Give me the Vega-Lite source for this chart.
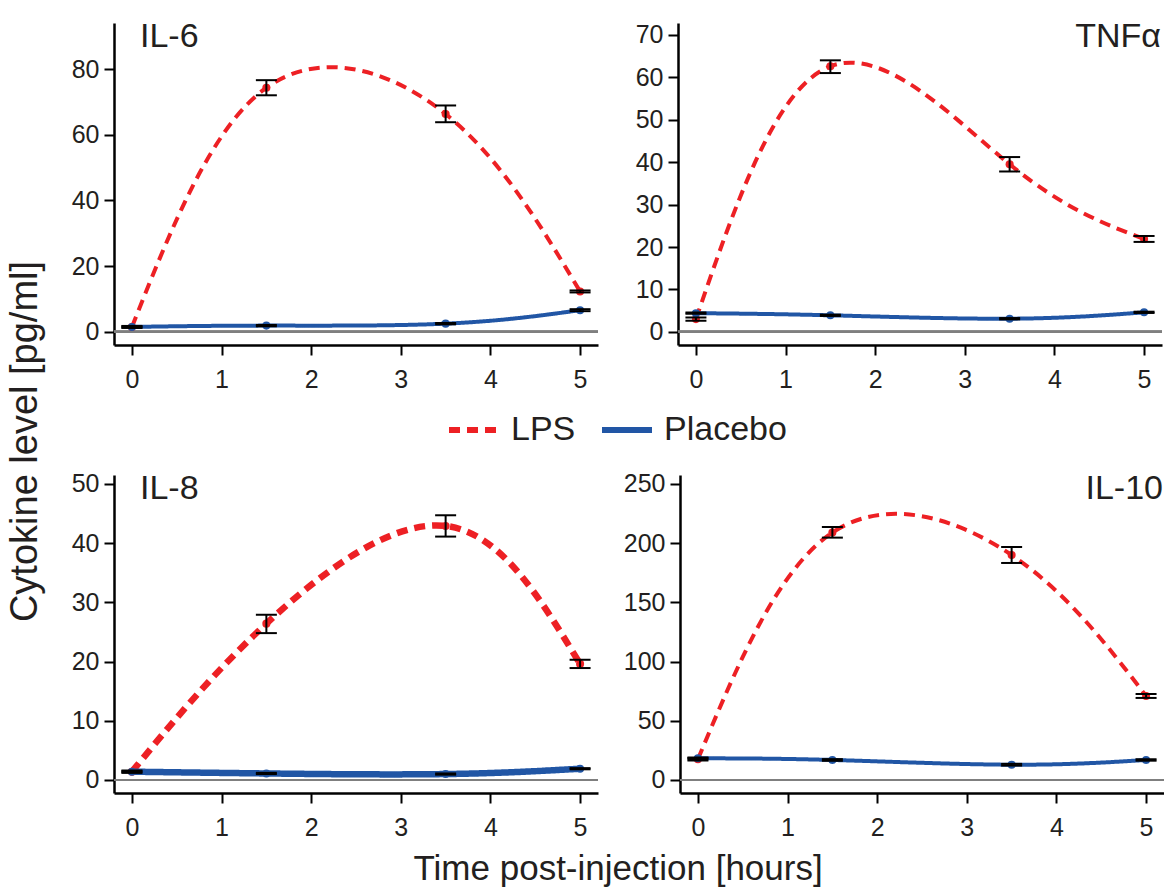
{
  "$schema": "https://vega.github.io/schema/vega-lite/v6.json",
  "background": "white",
  "padding": {"left": 7, "top": 20, "right": 2, "bottom": 5},
  "config": {
    "font": "Liberation Sans",
    "view": {"stroke": null},
    "axis": {"grid": false, "domainColor": "#000000", "domainWidth": 2.5, "tickColor": "#000000", "tickWidth": 2, "tickSize": 10, "labelFontSize": 25, "labelColor": "#231f20", "labelFont": "Liberation Sans", "labelPadding": 5, "title": null},
    "axisX": {"labelPadding": 12, "format": "d"},
    "title": {"font": "Liberation Sans", "color": "#231f20", "fontWeight": "normal"},
    "text": {"font": "Liberation Sans", "color": "#231f20", "fontSize": 34, "fontWeight": "normal"}
  },
  "title": {"text": "Cytokine level [pg/ml]", "orient": "left", "anchor": "middle", "fontSize": 38, "offset": 26, "dx": 12},
  "resolve": {"scale": {"color": "shared", "strokeDash": "shared", "fill": "shared"}},
  "datasets": {
    "d": [
      {"cytokine": "IL-6", "group": "LPS", "time": 0, "value": 1.5, "lo": 1.2, "hi": 1.8},
      {"cytokine": "IL-6", "group": "LPS", "time": 1.5, "value": 74.3, "lo": 72.0, "hi": 76.6},
      {"cytokine": "IL-6", "group": "LPS", "time": 3.5, "value": 66.3, "lo": 63.8, "hi": 68.9},
      {"cytokine": "IL-6", "group": "LPS", "time": 5, "value": 12.3, "lo": 12.0, "hi": 12.6},
      {"cytokine": "IL-6", "group": "Placebo", "time": 0, "value": 1.5, "lo": 1.3, "hi": 1.7},
      {"cytokine": "IL-6", "group": "Placebo", "time": 1.5, "value": 1.9, "lo": 1.7, "hi": 2.1},
      {"cytokine": "IL-6", "group": "Placebo", "time": 3.5, "value": 2.5, "lo": 2.3, "hi": 2.7},
      {"cytokine": "IL-6", "group": "Placebo", "time": 5, "value": 6.6, "lo": 6.3, "hi": 6.9},
      {"cytokine": "TNFα", "group": "LPS", "time": 0, "value": 3.0, "lo": 2.6, "hi": 3.4},
      {"cytokine": "TNFα", "group": "LPS", "time": 1.5, "value": 62.6, "lo": 61.0, "hi": 64.0},
      {"cytokine": "TNFα", "group": "LPS", "time": 3.5, "value": 39.5, "lo": 37.8, "hi": 41.2},
      {"cytokine": "TNFα", "group": "LPS", "time": 5, "value": 21.9, "lo": 21.2, "hi": 22.6},
      {"cytokine": "TNFα", "group": "Placebo", "time": 0, "value": 4.4, "lo": 4.25, "hi": 4.55},
      {"cytokine": "TNFα", "group": "Placebo", "time": 1.5, "value": 3.9, "lo": 3.75, "hi": 4.05},
      {"cytokine": "TNFα", "group": "Placebo", "time": 3.5, "value": 3.1, "lo": 2.95, "hi": 3.25},
      {"cytokine": "TNFα", "group": "Placebo", "time": 5, "value": 4.6, "lo": 4.45, "hi": 4.75},
      {"cytokine": "IL-8", "group": "LPS", "time": 0, "value": 1.4, "lo": 1.2, "hi": 1.6},
      {"cytokine": "IL-8", "group": "LPS", "time": 1.5, "value": 26.4, "lo": 24.8, "hi": 27.9},
      {"cytokine": "IL-8", "group": "LPS", "time": 3.5, "value": 42.9, "lo": 41.1, "hi": 44.7},
      {"cytokine": "IL-8", "group": "LPS", "time": 5, "value": 19.6, "lo": 18.9, "hi": 20.3},
      {"cytokine": "IL-8", "group": "Placebo", "time": 0, "value": 1.4, "lo": 1.3, "hi": 1.5},
      {"cytokine": "IL-8", "group": "Placebo", "time": 1.5, "value": 1.1, "lo": 1.0, "hi": 1.2},
      {"cytokine": "IL-8", "group": "Placebo", "time": 3.5, "value": 1.0, "lo": 0.9, "hi": 1.1},
      {"cytokine": "IL-8", "group": "Placebo", "time": 5, "value": 1.9, "lo": 1.8, "hi": 2.0},
      {"cytokine": "IL-10", "group": "LPS", "time": 0, "value": 17.5, "lo": 16.5, "hi": 18.5},
      {"cytokine": "IL-10", "group": "LPS", "time": 1.5, "value": 209, "lo": 204.7, "hi": 213.7},
      {"cytokine": "IL-10", "group": "LPS", "time": 3.5, "value": 190, "lo": 183.3, "hi": 196.8},
      {"cytokine": "IL-10", "group": "LPS", "time": 5, "value": 71, "lo": 69.3, "hi": 72.6},
      {"cytokine": "IL-10", "group": "Placebo", "time": 0, "value": 18.3, "lo": 17.6, "hi": 19.0},
      {"cytokine": "IL-10", "group": "Placebo", "time": 1.5, "value": 16.9, "lo": 16.2, "hi": 17.6},
      {"cytokine": "IL-10", "group": "Placebo", "time": 3.5, "value": 12.9, "lo": 12.2, "hi": 13.6},
      {"cytokine": "IL-10", "group": "Placebo", "time": 5, "value": 16.9, "lo": 16.3, "hi": 17.5}
    ]
  },
  "spacing": 79,
  "vconcat": [
    {
      "spacing": 36,
      "hconcat": [
        {
          "width": 484, "height": 322,
          "data": {"name": "d"},
          "transform": [{"filter": "datum.cytokine === 'IL-6'"}],
          "layer": [
            {"mark": {"type": "rule", "color": "#7f7f7f", "strokeWidth": 2}, "encoding": {"y": {"datum": 0, "type": "quantitative"}}},
            {"mark": {"type": "line", "interpolate": "natural", "strokeWidth": 4},
             "encoding": {
               "x": {"field": "time", "type": "quantitative", "scale": {"domain": [-0.2, 5.2], "nice": false, "zero": false}, "axis": {"values": [0, 1, 2, 3, 4, 5]}, "title": null},
               "y": {"field": "value", "type": "quantitative", "scale": {"domain": [-4, 94], "nice": false, "zero": false}, "axis": {"values": [0, 20, 40, 60, 80]}, "title": null},
               "color": {"field": "group", "type": "nominal", "scale": {"domain": ["LPS", "Placebo"], "range": ["#ed2024", "#2156a5"]}, "legend": {"orient": "none", "legendX": 332, "legendY": 379, "direction": "horizontal", "title": null, "symbolType": "stroke", "symbolStrokeWidth": 6, "symbolSize": 2500, "labelFontSize": 34, "labelFont": "Liberation Sans", "labelColor": "#231f20", "labelOffset": 9, "columnPadding": 14}},
               "strokeDash": {"field": "group", "type": "nominal", "scale": {"domain": ["LPS", "Placebo"], "range": [[11, 7], [1, 0]]}, "legend": {"orient": "none", "legendX": 332, "legendY": 379, "direction": "horizontal", "title": null, "symbolType": "stroke", "symbolStrokeWidth": 6, "symbolSize": 2500, "labelFontSize": 34, "labelFont": "Liberation Sans", "labelColor": "#231f20", "labelOffset": 9, "columnPadding": 14}}
             }},
            {"mark": {"type": "point", "filled": true, "size": 65, "opacity": 1},
             "encoding": {
               "x": {"field": "time", "type": "quantitative"},
               "y": {"field": "value", "type": "quantitative"},
               "fill": {"field": "group", "type": "nominal", "scale": {"domain": ["LPS", "Placebo"], "range": ["#ed2024", "#2156a5"]}, "legend": null}
             }},
            {"mark": {"type": "rule", "color": "#000000", "strokeWidth": 2},
             "encoding": {"x": {"field": "time", "type": "quantitative"}, "y": {"field": "lo", "type": "quantitative"}, "y2": {"field": "hi"}}},
            {"mark": {"type": "tick", "orient": "horizontal", "size": 21, "thickness": 2, "color": "#000000", "opacity": 1},
             "encoding": {"x": {"field": "time", "type": "quantitative"}, "y": {"field": "lo", "type": "quantitative"}}},
            {"mark": {"type": "tick", "orient": "horizontal", "size": 21, "thickness": 2, "color": "#000000", "opacity": 1},
             "encoding": {"x": {"field": "time", "type": "quantitative"}, "y": {"field": "hi", "type": "quantitative"}}},
            {"data": {"values": [{"label": "IL-6"}]},
             "mark": {"type": "text", "align": "left", "baseline": "alphabetic", "dx": 26, "dy": 24},
             "encoding": {"x": {"datum": -0.2, "type": "quantitative"}, "y": {"datum": 94, "type": "quantitative"}, "text": {"field": "label"}}}
          ]
        },
        {
          "width": 484, "height": 322,
          "data": {"name": "d"},
          "transform": [{"filter": "datum.cytokine === 'TNFα'"}],
          "layer": [
            {"mark": {"type": "rule", "color": "#7f7f7f", "strokeWidth": 2}, "encoding": {"y": {"datum": 0, "type": "quantitative"}}},
            {"mark": {"type": "line", "interpolate": "natural", "strokeWidth": 4},
             "encoding": {
               "x": {"field": "time", "type": "quantitative", "scale": {"domain": [-0.2, 5.2], "nice": false, "zero": false}, "axis": {"values": [0, 1, 2, 3, 4, 5]}, "title": null},
               "y": {"field": "value", "type": "quantitative", "scale": {"domain": [-3.1, 72.8], "nice": false, "zero": false}, "axis": {"values": [0, 10, 20, 30, 40, 50, 60, 70]}, "title": null},
               "color": {"field": "group", "type": "nominal", "scale": {"domain": ["LPS", "Placebo"], "range": ["#ed2024", "#2156a5"]}},
               "strokeDash": {"field": "group", "type": "nominal", "scale": {"domain": ["LPS", "Placebo"], "range": [[11, 7], [1, 0]]}}
             }},
            {"mark": {"type": "point", "filled": true, "size": 65, "opacity": 1},
             "encoding": {
               "x": {"field": "time", "type": "quantitative"},
               "y": {"field": "value", "type": "quantitative"},
               "fill": {"field": "group", "type": "nominal", "scale": {"domain": ["LPS", "Placebo"], "range": ["#ed2024", "#2156a5"]}, "legend": null}
             }},
            {"mark": {"type": "rule", "color": "#000000", "strokeWidth": 2},
             "encoding": {"x": {"field": "time", "type": "quantitative"}, "y": {"field": "lo", "type": "quantitative"}, "y2": {"field": "hi"}}},
            {"mark": {"type": "tick", "orient": "horizontal", "size": 21, "thickness": 2, "color": "#000000", "opacity": 1},
             "encoding": {"x": {"field": "time", "type": "quantitative"}, "y": {"field": "lo", "type": "quantitative"}}},
            {"mark": {"type": "tick", "orient": "horizontal", "size": 21, "thickness": 2, "color": "#000000", "opacity": 1},
             "encoding": {"x": {"field": "time", "type": "quantitative"}, "y": {"field": "hi", "type": "quantitative"}}},
            {"data": {"values": [{"label": "TNFα"}]},
             "mark": {"type": "text", "align": "right", "baseline": "alphabetic", "dx": -1, "dy": 24},
             "encoding": {"x": {"datum": 5.2, "type": "quantitative"}, "y": {"datum": 72.8, "type": "quantitative"}, "text": {"field": "label"}}}
          ]
        }
      ]
    },
    {
      "spacing": 24,
      "title": {"text": "Time post-injection [hours]", "orient": "bottom", "anchor": "middle", "fontSize": 35, "offset": 12},
      "hconcat": [
        {
          "width": 484, "height": 318,
          "data": {"name": "d"},
          "transform": [{"filter": "datum.cytokine === 'IL-8'"}],
          "layer": [
            {"mark": {"type": "rule", "color": "#7f7f7f", "strokeWidth": 2}, "encoding": {"y": {"datum": 0, "type": "quantitative"}}},
            {"mark": {"type": "line", "interpolate": "natural", "strokeWidth": 6.5},
             "encoding": {
               "x": {"field": "time", "type": "quantitative", "scale": {"domain": [-0.2, 5.2], "nice": false, "zero": false}, "axis": {"values": [0, 1, 2, 3, 4, 5]}, "title": null},
               "y": {"field": "value", "type": "quantitative", "scale": {"domain": [-2.2, 51.5], "nice": false, "zero": false}, "axis": {"values": [0, 10, 20, 30, 40, 50]}, "title": null},
               "color": {"field": "group", "type": "nominal", "scale": {"domain": ["LPS", "Placebo"], "range": ["#ed2024", "#2156a5"]}},
               "strokeDash": {"field": "group", "type": "nominal", "scale": {"domain": ["LPS", "Placebo"], "range": [[11, 7], [1, 0]]}}
             }},
            {"mark": {"type": "point", "filled": true, "size": 65, "opacity": 1},
             "encoding": {
               "x": {"field": "time", "type": "quantitative"},
               "y": {"field": "value", "type": "quantitative"},
               "fill": {"field": "group", "type": "nominal", "scale": {"domain": ["LPS", "Placebo"], "range": ["#ed2024", "#2156a5"]}, "legend": null}
             }},
            {"mark": {"type": "rule", "color": "#000000", "strokeWidth": 2},
             "encoding": {"x": {"field": "time", "type": "quantitative"}, "y": {"field": "lo", "type": "quantitative"}, "y2": {"field": "hi"}}},
            {"mark": {"type": "tick", "orient": "horizontal", "size": 21, "thickness": 2, "color": "#000000", "opacity": 1},
             "encoding": {"x": {"field": "time", "type": "quantitative"}, "y": {"field": "lo", "type": "quantitative"}}},
            {"mark": {"type": "tick", "orient": "horizontal", "size": 21, "thickness": 2, "color": "#000000", "opacity": 1},
             "encoding": {"x": {"field": "time", "type": "quantitative"}, "y": {"field": "hi", "type": "quantitative"}}},
            {"data": {"values": [{"label": "IL-8"}]},
             "mark": {"type": "text", "align": "left", "baseline": "alphabetic", "dx": 26, "dy": 24},
             "encoding": {"x": {"datum": -0.2, "type": "quantitative"}, "y": {"datum": 51.5, "type": "quantitative"}, "text": {"field": "label"}}}
          ]
        },
        {
          "width": 484, "height": 318,
          "data": {"name": "d"},
          "transform": [{"filter": "datum.cytokine === 'IL-10'"}],
          "layer": [
            {"mark": {"type": "rule", "color": "#7f7f7f", "strokeWidth": 2}, "encoding": {"y": {"datum": 0, "type": "quantitative"}}},
            {"mark": {"type": "line", "interpolate": "natural", "strokeWidth": 4},
             "encoding": {
               "x": {"field": "time", "type": "quantitative", "scale": {"domain": [-0.2, 5.2], "nice": false, "zero": false}, "axis": {"values": [0, 1, 2, 3, 4, 5]}, "title": null},
               "y": {"field": "value", "type": "quantitative", "scale": {"domain": [-11, 257.6], "nice": false, "zero": false}, "axis": {"values": [0, 50, 100, 150, 200, 250]}, "title": null},
               "color": {"field": "group", "type": "nominal", "scale": {"domain": ["LPS", "Placebo"], "range": ["#ed2024", "#2156a5"]}},
               "strokeDash": {"field": "group", "type": "nominal", "scale": {"domain": ["LPS", "Placebo"], "range": [[11, 7], [1, 0]]}}
             }},
            {"mark": {"type": "point", "filled": true, "size": 65, "opacity": 1},
             "encoding": {
               "x": {"field": "time", "type": "quantitative"},
               "y": {"field": "value", "type": "quantitative"},
               "fill": {"field": "group", "type": "nominal", "scale": {"domain": ["LPS", "Placebo"], "range": ["#ed2024", "#2156a5"]}, "legend": null}
             }},
            {"mark": {"type": "rule", "color": "#000000", "strokeWidth": 2},
             "encoding": {"x": {"field": "time", "type": "quantitative"}, "y": {"field": "lo", "type": "quantitative"}, "y2": {"field": "hi"}}},
            {"mark": {"type": "tick", "orient": "horizontal", "size": 21, "thickness": 2, "color": "#000000", "opacity": 1},
             "encoding": {"x": {"field": "time", "type": "quantitative"}, "y": {"field": "lo", "type": "quantitative"}}},
            {"mark": {"type": "tick", "orient": "horizontal", "size": 21, "thickness": 2, "color": "#000000", "opacity": 1},
             "encoding": {"x": {"field": "time", "type": "quantitative"}, "y": {"field": "hi", "type": "quantitative"}}},
            {"data": {"values": [{"label": "IL-10"}]},
             "mark": {"type": "text", "align": "right", "baseline": "alphabetic", "dx": -1, "dy": 24},
             "encoding": {"x": {"datum": 5.2, "type": "quantitative"}, "y": {"datum": 257.6, "type": "quantitative"}, "text": {"field": "label"}}}
          ]
        }
      ]
    }
  ]
}
